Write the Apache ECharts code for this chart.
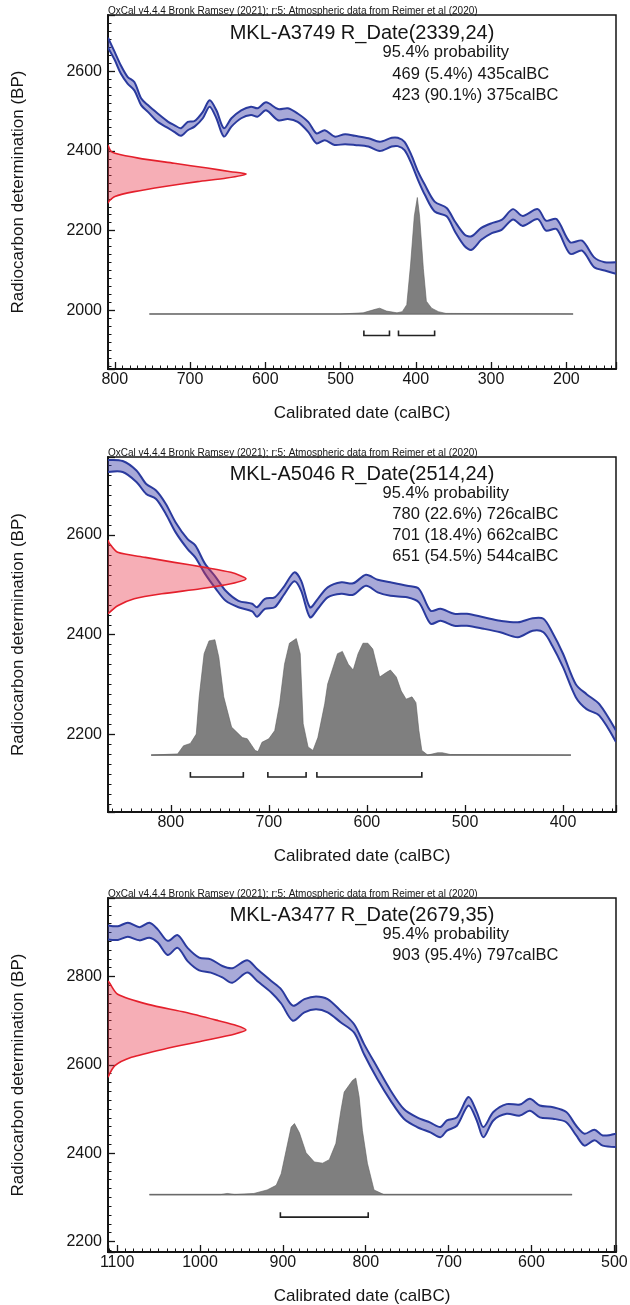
<!DOCTYPE html>
<html><head><meta charset="utf-8">
<script src="https://cdn.jsdelivr.net/npm/echarts@6/dist/echarts.min.js"></script>
<style>html,body{margin:0;padding:0;background:#fff}#c{width:630px;height:1305px}</style>
</head><body><div id="c"></div>
<script>
// ---------------- data ----------------
const sourceNote = 'OxCal v4.4.4 Bronk Ramsey (2021); r:5: Atmospheric data from Reimer et al (2020)';
const labIds = ['MKL-A3749', 'MKL-A5046', 'MKL-A3477'];
const rDateBP = [2339, 2514, 2679];
const rDateErr = [24, 24, 35];
const probLabel = '95.4% probability';

// calibration curve band (IntCal20), upper / lower edge in BP
const cal1Years = [809,800,792,783,774,765,756,743,729,721,712,703,694,683,674,665,655,645,632,619,610,599,583,570,557,543,532,521,508,494,481,463,448,432,424,415,406,397,388,375,359,348,335,326,313,299,286,271,258,238,227,213,195,179,163,149,134];
const cal1Upper = [2684,2648,2615,2586,2573,2532,2515,2494,2473,2465,2457,2473,2475,2498,2527,2502,2457,2482,2502,2511,2507,2522,2505,2507,2494,2473,2444,2452,2436,2442,2438,2432,2423,2433,2433,2423,2390,2348,2315,2273,2257,2223,2190,2186,2207,2219,2227,2254,2237,2254,2225,2229,2171,2175,2133,2121,2121];
const cal1Lower = [2659,2628,2594,2569,2552,2515,2498,2473,2457,2448,2438,2452,2461,2482,2511,2482,2436,2461,2482,2490,2486,2502,2477,2480,2473,2448,2419,2427,2415,2417,2415,2411,2400,2411,2412,2402,2369,2327,2290,2248,2236,2198,2161,2152,2177,2194,2202,2228,2212,2229,2200,2204,2142,2150,2108,2100,2092];

const cal2Years = [864,849,835,825,815,805,795,783,775,765,754,744,731,717,712,704,694,684,674,667,658,650,640,626,614,601,589,576,559,547,535,525,511,498,481,464,446,431,420,411,400,387,376,363,346];
const cal2Upper = [2750,2748,2729,2702,2689,2662,2625,2592,2579,2542,2515,2488,2468,2462,2455,2472,2475,2498,2525,2508,2455,2472,2495,2505,2503,2520,2510,2505,2498,2492,2448,2452,2442,2442,2435,2428,2425,2433,2432,2405,2362,2301,2281,2261,2208];
const cal2Lower = [2726,2726,2706,2682,2672,2642,2605,2572,2555,2522,2492,2468,2455,2447,2436,2452,2455,2482,2507,2488,2435,2452,2475,2482,2480,2498,2485,2478,2475,2465,2422,2428,2418,2418,2412,2405,2395,2408,2405,2378,2335,2275,2251,2238,2185];

const cal3Years = [1111,1099,1087,1073,1061,1051,1039,1027,1015,1001,987,973,961,943,931,914,902,888,874,860,846,830,814,802,786,770,754,738,722,710,702,690,676,666,658,646,630,614,602,590,574,558,546,536,524,514,498];
const cal3Upper = [2916,2914,2922,2912,2922,2907,2881,2894,2865,2843,2839,2824,2819,2837,2817,2790,2771,2734,2749,2755,2749,2722,2692,2647,2594,2542,2500,2481,2469,2459,2474,2481,2527,2493,2459,2493,2511,2510,2523,2508,2504,2493,2462,2444,2453,2440,2444];
const cal3Lower = [2884,2883,2890,2882,2888,2877,2849,2865,2835,2814,2809,2798,2786,2809,2790,2764,2739,2700,2719,2726,2719,2696,2673,2624,2568,2519,2478,2459,2447,2436,2451,2462,2508,2474,2436,2474,2489,2485,2496,2481,2478,2470,2440,2417,2429,2417,2414];

// radiocarbon likelihood (red), relative density against BP
const red1BP = [2415,2400,2394,2382,2369,2357,2348,2342,2332,2323,2311,2298,2286,2275,2269];
const red1Dens = [0,0.02,0.05,0.22,0.48,0.72,0.89,1.0,0.86,0.65,0.41,0.19,0.05,0.01,0];
const red2BP = [2590,2583,2565,2555,2545,2535,2525,2512,2502,2492,2482,2472,2458,2442];
const red2Dens = [0,0.01,0.07,0.27,0.48,0.70,0.89,1.0,0.89,0.67,0.39,0.19,0.07,0];
const red3BP = [2790,2786,2760,2737,2719,2700,2689,2679,2670,2655,2636,2617,2598,2572];
const red3Dens = [0,0.01,0.07,0.29,0.56,0.80,0.93,1.0,0.92,0.70,0.41,0.17,0.05,0];

// calibrated probability (grey), relative probability against calBC
const hist1Years = [754,500,470,454,448,439,425,418,412,407,402,398,395,390,386,379,370,360,191];
const hist1Prob = [0,0,0.01,0.04,0.05,0.025,0.01,0.02,0.08,0.42,0.84,1.0,0.84,0.39,0.11,0.05,0.02,0.005,0];
const hist2Years = [820,793,787,780,774,771,766,761,755,751,746,738,727,722,714,711,707,700,694,689,684,679,672,668,665,660,655,650,643,640,630,625,619,614,609,604,599,594,587,580,576,570,565,560,554,550,547,544,538,528,523,515,392];
const hist2Prob = [0,0.01,0.08,0.10,0.18,0.50,0.87,0.98,0.99,0.84,0.50,0.24,0.15,0.14,0.04,0.03,0.11,0.14,0.21,0.44,0.78,0.96,1.0,0.87,0.27,0.07,0.04,0.15,0.44,0.61,0.87,0.89,0.78,0.73,0.87,0.96,0.96,0.91,0.67,0.71,0.73,0.67,0.55,0.48,0.50,0.45,0.21,0.04,0,0.02,0.02,0.005,0];
const hist3Years = [1061,975,967,958,935,919,908,902,896,890,886,880,872,862,852,844,836,830,826,816,812,808,804,798,790,778,551];
const hist3Prob = [0,0,0.01,0,0.01,0.04,0.08,0.18,0.38,0.58,0.61,0.53,0.36,0.28,0.27,0.30,0.44,0.72,0.88,0.98,1.0,0.84,0.55,0.27,0.04,0,0];

// 95.4% ranges
const range1From = [469, 423], range1Pct = [5.4, 90.1], range1To = [435, 375];
const range2From = [780, 701, 651], range2Pct = [22.6, 18.4, 54.5], range2To = [726, 662, 544];
const range3From = [903], range3Pct = [95.4], range3To = [797];

// ---------------- layout / style ----------------
const FONT = "'Liberation Sans', Arial, Helvetica, sans-serif";
const INK = '#151515';
const panels = [
  {top:15, height:354, xMin:134, xMax:809, yMin:1853, yMax:2741, histBase:1991, bracketBP:1937,
   years:cal1Years, up:cal1Upper, lo:cal1Lower, redBP:red1BP, redD:red1Dens, hY:hist1Years, hP:hist1Prob,
   rFrom:range1From, rPct:range1Pct, rTo:range1To, titleY:33, probY:52.5, rangeY:74.3},
  {top:457, height:355, xMin:346, xMax:864, yMin:2045, yMax:2756, histBase:2159, bracketBP:2115,
   years:cal2Years, up:cal2Upper, lo:cal2Lower, redBP:red2BP, redD:red2Dens, hY:hist2Years, hP:hist2Prob,
   rFrom:range2From, rPct:range2Pct, rTo:range2To, titleY:474, probY:493, rangeY:514.3},
  {top:898, height:354, xMin:498, xMax:1111, yMin:2176, yMax:2978, histBase:2306, bracketBP:2255,
   years:cal3Years, up:cal3Upper, lo:cal3Lower, redBP:red3BP, redD:red3Dens, hY:hist3Years, hP:hist3Prob,
   rFrom:range3From, rPct:range3Pct, rTo:range3To, titleY:915, probY:934, rangeY:955.3}
];
const LEFT = 108, WIDTH = 508;
const RED_PEAK_PX = 138, HIST_PEAK_PX = 116.5, BRACKET_TICK_PX = 5, RANGE_STEP = 21.3;
const SMOOTH = 0.3;

const grids = [], xAxes = [], yAxes = [], series = [], graphics = [];

function txt(x, y, text, size, align, vAlign, extra) {
  return Object.assign({
    type: 'text', x: x, y: y, silent: true,
    style: { text: text, fill: INK, font: size + 'px ' + FONT, fontSize: size, fontFamily: FONT,
             textAlign: align, textVerticalAlign: vAlign, align: align, verticalAlign: vAlign }
  }, extra || {});
}

panels.forEach((p, i) => {
  grids.push({ left: LEFT, top: p.top, width: WIDTH, height: p.height, show: true,
               borderColor: INK, borderWidth: 1.5, backgroundColor: 'transparent',
               containLabel: false, outerBoundsMode: 'none' });
  xAxes.push({
    type: 'value', gridIndex: i, min: p.xMin, max: p.xMax, inverse: true,
    splitNumber: 6, minInterval: 100, maxInterval: 100,
    axisLine: { show: true, onZero: false, lineStyle: { color: INK, width: 2 } },
    axisTick: { show: true, inside: true, length: 7, lineStyle: { color: INK, width: 1.3 } },
    minorTick: { show: true, splitNumber: 10, length: 3.5, lineStyle: { color: INK, width: 1 } },
    axisLabel: { margin: 3, color: INK, fontSize: 16, fontFamily: FONT, showMinLabel: false, showMaxLabel: false,
                 formatter: v => (Math.abs(v % 100) < 1e-6 ? String(v) : '') },
    splitLine: { show: false }, minorSplitLine: { show: false }
  });
  yAxes.push({
    type: 'value', gridIndex: i, min: p.yMin, max: p.yMax,
    splitNumber: 4, minInterval: 200, maxInterval: 200,
    axisLine: { show: true, onZero: false, lineStyle: { color: INK, width: 2 } },
    axisTick: { show: true, inside: true, length: 7, lineStyle: { color: INK, width: 1.3 } },
    minorTick: { show: true, splitNumber: 10, length: 3.5, lineStyle: { color: INK, width: 1 } },
    axisLabel: { margin: 6, color: INK, fontSize: 16, fontFamily: FONT, showMinLabel: false, showMaxLabel: false,
                 formatter: v => (Math.abs(v % 200) < 1e-6 ? String(v) : '') },
    splitLine: { show: false }, minorSplitLine: { show: false }
  });

  const upPts = p.years.map((t, k) => [t, p.up[k]]);
  const loPts = p.years.map((t, k) => [t, p.lo[k]]);

  // calibration band: fill between the edges + both edge lines
  series.push({
    type: 'custom', xAxisIndex: i, yAxisIndex: i, clip: true, silent: true, z: 2,
    data: upPts,
    renderItem: (params, api) => {
      if (params.dataIndex !== 0) return null;
      const u = upPts.map(q => api.coord(q));
      const l = loPts.map(q => api.coord(q));
      return { type: 'group', children: [
        { type: 'polygon', shape: { points: u.concat(l.slice().reverse()), smooth: SMOOTH },
          style: { fill: 'rgba(62,64,168,0.45)', stroke: null } },
        { type: 'polyline', shape: { points: u, smooth: SMOOTH },
          style: { fill: null, stroke: '#2a3a9e', lineWidth: 2, lineJoin: 'round' } },
        { type: 'polyline', shape: { points: l, smooth: SMOOTH },
          style: { fill: null, stroke: '#2a3a9e', lineWidth: 2, lineJoin: 'round' } }
      ]};
    }
  });

  // red radiocarbon likelihood
  series.push({
    type: 'custom', xAxisIndex: i, yAxisIndex: i, clip: true, silent: true, z: 4,
    data: [[p.xMax, p.redBP[0]]],
    renderItem: (params, api) => {
      const pts = p.redBP.map((bp, k) => {
        const c = api.coord([p.xMax, bp]);
        return [c[0] + p.redD[k] * RED_PEAK_PX, c[1]];
      });
      return { type: 'group', children: [
        { type: 'polygon', shape: { points: pts, smooth: 0.25 }, style: { fill: 'rgba(232,52,72,0.40)', stroke: null } },
        { type: 'polyline', shape: { points: pts, smooth: 0.25 }, style: { fill: null, stroke: '#e4202c', lineWidth: 1.6 } }
      ]};
    }
  });

  // grey calibrated distribution + baseline
  series.push({
    type: 'custom', xAxisIndex: i, yAxisIndex: i, clip: true, silent: true, z: 4,
    data: [[p.hY[0], p.histBase]],
    renderItem: (params, api) => {
      const pts = p.hY.map((t, k) => {
        const c = api.coord([t, p.histBase]);
        return [c[0], c[1] - p.hP[k] * HIST_PEAK_PX];
      });
      const b0 = api.coord([p.hY[0], p.histBase]);
      const b1 = api.coord([p.hY[p.hY.length - 1], p.histBase]);
      return { type: 'group', children: [
        { type: 'line', shape: { x1: b0[0], y1: b0[1], x2: b1[0], y2: b1[1] },
          style: { stroke: '#9a9a9a', lineWidth: 1.6 } },
        { type: 'polygon', shape: { points: pts },
          style: { fill: '#7f7f7f', stroke: '#5e5e5e', lineWidth: 0.6 } }
      ]};
    }
  });

  // 95.4% range brackets
  series.push({
    type: 'custom', xAxisIndex: i, yAxisIndex: i, clip: true, silent: true, z: 5,
    data: p.rFrom.map((f, k) => [f, p.rTo[k]]),
    renderItem: (params, api) => {
      const a = api.coord([api.value(0), p.bracketBP]);
      const b = api.coord([api.value(1), p.bracketBP]);
      return { type: 'polyline',
        shape: { points: [[a[0], a[1] - BRACKET_TICK_PX], a, b, [b[0], b[1] - BRACKET_TICK_PX]] },
        style: { fill: null, stroke: '#222', lineWidth: 1.6 } };
    }
  });

  // texts
  const midX = LEFT + WIDTH / 2;
  graphics.push(txt(LEFT, p.top - 3.5, sourceNote, 10, 'left', 'middle'));
  graphics.push(txt(midX, p.titleY, labIds[i] + ' R_Date(' + rDateBP[i] + ',' + rDateErr[i] + ')', 20, 'center', 'middle'));
  graphics.push(txt(382.5, p.probY, probLabel, 16.5, 'left', 'middle'));
  p.rFrom.forEach((f, k) => {
    graphics.push(txt(392.3, p.rangeY + k * RANGE_STEP,
      f + ' (' + p.rPct[k].toFixed(1) + '%) ' + p.rTo[k] + 'calBC', 16.5, 'left', 'middle'));
  });
  graphics.push(txt(midX, p.top + p.height + 44, 'Calibrated date (calBC)', 17, 'center', 'middle'));
  graphics.push(txt(18, p.top + p.height / 2, 'Radiocarbon determination (BP)', 17, 'center', 'middle',
    { rotation: Math.PI / 2 }));
});

const chart = echarts.init(document.getElementById('c'), null, { renderer: 'canvas' });
chart.setOption({
  animation: false,
  backgroundColor: '#ffffff',
  textStyle: { fontFamily: FONT },
  grid: grids, xAxis: xAxes, yAxis: yAxes, series: series,
  graphic: { elements: graphics }
});
</script></body></html>
